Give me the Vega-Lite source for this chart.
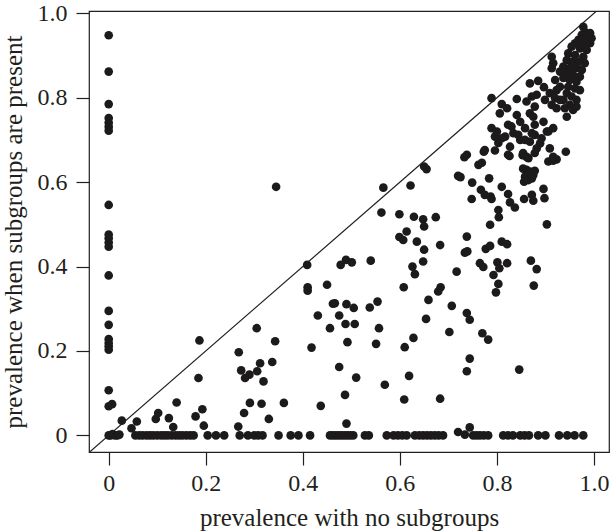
{
  "$schema": "https://vega.github.io/schema/vega-lite/v6.json",
  "width": 520,
  "height": 441,
  "autosize": {"type": "none"},
  "padding": {"left": 89, "top": 11, "right": 1, "bottom": 79},
  "background": "white",
  "config": {"view": {"stroke": "#231f20", "strokeWidth": 1.2}, "font": "Liberation Serif",
    "axis": {"labelFont": "Liberation Serif", "titleFont": "Liberation Serif"}},
  "layer": [
    {
      "data": {"values": [
        {"x":0,"y":0.948},{"x":0,"y":0.862},{"x":0,"y":0.785},{"x":0,"y":0.752},{"x":0,"y":0.741},{"x":0,"y":0.731},{"x":0,"y":0.722},
        {"x":0,"y":0.546},{"x":0,"y":0.476},{"x":0,"y":0.467},{"x":0,"y":0.457},{"x":0,"y":0.447},{"x":0,"y":0.379},{"x":0,"y":0.295},
        {"x":0,"y":0.262},{"x":0,"y":0.228},{"x":0,"y":0.219},{"x":0,"y":0.211},{"x":0,"y":0.203},{"x":0,"y":0.107},{"x":0,"y":0.069},
        {"x":0.007,"y":0.074},{"x":0,"y":0},{"x":0.004,"y":0},{"x":0.008,"y":0.003},{"x":0.013,"y":0},{"x":0.018,"y":0},{"x":0.022,"y":0.002},
        {"x":0.027,"y":0.035},{"x":0.047,"y":0.017},{"x":0.058,"y":0.033},
        {"x":0.055,"y":0},{"x":0.063,"y":0},{"x":0.07,"y":0},{"x":0.078,"y":0},{"x":0.085,"y":0},{"x":0.092,"y":0},{"x":0.1,"y":0},
        {"x":0.108,"y":0},{"x":0.115,"y":0},{"x":0.122,"y":0},{"x":0.13,"y":0},{"x":0.138,"y":0},{"x":0.145,"y":0},{"x":0.152,"y":0},
        {"x":0.16,"y":0},{"x":0.168,"y":0},{"x":0.175,"y":0},{"x":0.204,"y":0},{"x":0.221,"y":0},{"x":0.238,"y":0},{"x":0.27,"y":0},
        {"x":0.287,"y":0},{"x":0.3,"y":0},{"x":0.308,"y":0},{"x":0.317,"y":0},{"x":0.35,"y":0},{"x":0.375,"y":0},{"x":0.391,"y":0},
        {"x":0.415,"y":0},{"x":0.456,"y":0},{"x":0.462,"y":0},{"x":0.468,"y":0},{"x":0.474,"y":0},{"x":0.48,"y":0},{"x":0.486,"y":0},
        {"x":0.492,"y":0},{"x":0.498,"y":0},{"x":0.504,"y":0},{"x":0.528,"y":0},{"x":0.536,"y":0},{"x":0.573,"y":0},{"x":0.587,"y":0},
        {"x":0.596,"y":0},{"x":0.605,"y":0},{"x":0.614,"y":0},{"x":0.631,"y":0},{"x":0.64,"y":0},{"x":0.648,"y":0},{"x":0.656,"y":0},
        {"x":0.664,"y":0},{"x":0.672,"y":0},{"x":0.68,"y":0},{"x":0.689,"y":0},{"x":0.751,"y":0},{"x":0.758,"y":0},{"x":0.765,"y":0},
        {"x":0.773,"y":0},{"x":0.782,"y":0},{"x":0.813,"y":0},{"x":0.823,"y":0},{"x":0.833,"y":0},{"x":0.848,"y":0},{"x":0.857,"y":0},
        {"x":0.866,"y":0},{"x":0.885,"y":0},{"x":0.9,"y":0},{"x":0.928,"y":0},{"x":0.945,"y":0},{"x":0.96,"y":0},{"x":0.978,"y":0},
        {"x":0.097,"y":0.039},{"x":0.102,"y":0.053},{"x":0.124,"y":0.041},{"x":0.133,"y":0.02},{"x":0.14,"y":0.078},{"x":0.179,"y":0.045},
        {"x":0.185,"y":0.136},{"x":0.187,"y":0.225},{"x":0.193,"y":0.062},{"x":0.196,"y":0.023},
        {"x":0.267,"y":0.021},{"x":0.268,"y":0.197},{"x":0.273,"y":0.154},{"x":0.281,"y":0.136},{"x":0.29,"y":0.144},{"x":0.291,"y":0.077},
        {"x":0.279,"y":0.053},{"x":0.305,"y":0.254},{"x":0.306,"y":0.152},{"x":0.312,"y":0.171},
        {"x":0.337,"y":0.174},{"x":0.319,"y":0.128},{"x":0.315,"y":0.075},{"x":0.361,"y":0.077},{"x":0.437,"y":0.07},{"x":0.33,"y":0.039},
        {"x":0.49,"y":0.028},{"x":0.343,"y":0.223},{"x":0.418,"y":0.208},{"x":0.492,"y":0.221},{"x":0.551,"y":0.217},{"x":0.61,"y":0.209},
        {"x":0.628,"y":0.231},{"x":0.475,"y":0.162},{"x":0.51,"y":0.137},{"x":0.569,"y":0.12},{"x":0.619,"y":0.141},{"x":0.487,"y":0.096},
        {"x":0.609,"y":0.085},{"x":0.431,"y":0.284},{"x":0.475,"y":0.284},{"x":0.456,"y":0.254},{"x":0.488,"y":0.264},{"x":0.507,"y":0.264},
        {"x":0.557,"y":0.254},{"x":0.654,"y":0.276},
        {"x":0.345,"y":0.589},{"x":0.566,"y":0.587},{"x":0.622,"y":0.592},{"x":0.65,"y":0.637},{"x":0.655,"y":0.631},{"x":0.562,"y":0.528},
        {"x":0.599,"y":0.524},{"x":0.629,"y":0.518},{"x":0.648,"y":0.512},{"x":0.65,"y":0.495},{"x":0.614,"y":0.483},{"x":0.599,"y":0.47},
        {"x":0.607,"y":0.463},{"x":0.635,"y":0.459},{"x":0.65,"y":0.44},{"x":0.648,"y":0.412},{"x":0.626,"y":0.4},{"x":0.631,"y":0.382},
        {"x":0.608,"y":0.351},{"x":0.659,"y":0.321},{"x":0.409,"y":0.404},{"x":0.478,"y":0.404},{"x":0.489,"y":0.416},{"x":0.501,"y":0.41},
        {"x":0.54,"y":0.414},{"x":0.41,"y":0.351},{"x":0.41,"y":0.343},{"x":0.45,"y":0.357},{"x":0.462,"y":0.312},{"x":0.466,"y":0.313},
        {"x":0.49,"y":0.311},{"x":0.505,"y":0.302},{"x":0.538,"y":0.303},{"x":0.554,"y":0.317},
        {"x":0.733,"y":0.659},{"x":0.773,"y":0.672},{"x":0.796,"y":0.675},{"x":0.826,"y":0.662},{"x":0.853,"y":0.664},{"x":0.865,"y":0.657},
        {"x":0.942,"y":0.672},{"x":0.906,"y":0.649},{"x":0.916,"y":0.651},{"x":0.923,"y":0.654},{"x":0.762,"y":0.641},{"x":0.769,"y":0.646},
        {"x":0.72,"y":0.615},{"x":0.725,"y":0.612},{"x":0.784,"y":0.609},{"x":0.854,"y":0.632},{"x":0.861,"y":0.629},{"x":0.868,"y":0.625},
        {"x":0.878,"y":0.627},{"x":0.875,"y":0.617},{"x":0.858,"y":0.613},{"x":0.865,"y":0.605},{"x":0.856,"y":0.601},{"x":0.872,"y":0.609},
        {"x":0.749,"y":0.599},{"x":0.81,"y":0.589},{"x":0.767,"y":0.582},{"x":0.775,"y":0.57},{"x":0.787,"y":0.566},{"x":0.789,"y":0.56},
        {"x":0.748,"y":0.56},{"x":0.823,"y":0.572},{"x":0.856,"y":0.56},{"x":0.872,"y":0.57},{"x":0.875,"y":0.556},{"x":0.896,"y":0.584},
        {"x":0.898,"y":0.562},{"x":0.827,"y":0.552},{"x":0.837,"y":0.54},{"x":0.803,"y":0.534},{"x":0.804,"y":0.517},{"x":0.674,"y":0.517},
        {"x":0.786,"y":0.499},{"x":0.903,"y":0.5},{"x":0.738,"y":0.471},{"x":0.683,"y":0.451},{"x":0.734,"y":0.433},{"x":0.739,"y":0.436},
        {"x":0.777,"y":0.442},{"x":0.786,"y":0.449},{"x":0.81,"y":0.459},{"x":0.821,"y":0.453},{"x":0.765,"y":0.408},{"x":0.772,"y":0.399},
        {"x":0.801,"y":0.41},{"x":0.805,"y":0.396},{"x":0.793,"y":0.38},{"x":0.821,"y":0.408},{"x":0.87,"y":0.414},{"x":0.882,"y":0.394},
        {"x":0.717,"y":0.388},{"x":0.803,"y":0.359},{"x":0.798,"y":0.339},{"x":0.876,"y":0.355},{"x":0.684,"y":0.351},{"x":0.679,"y":0.341},
        {"x":0.707,"y":0.307},
        {"x":0.738,"y":0.29},{"x":0.744,"y":0.274},{"x":0.702,"y":0.245},{"x":0.77,"y":0.242},{"x":0.782,"y":0.227},{"x":0.744,"y":0.182},
        {"x":0.738,"y":0.152},{"x":0.846,"y":0.156},{"x":0.683,"y":0.087},{"x":0.744,"y":0.019},{"x":0.72,"y":0.008},{"x":0.734,"y":0.002},
        {"x":0.789,"y":0.799},{"x":0.81,"y":0.785},{"x":0.821,"y":0.775},{"x":0.806,"y":0.763},{"x":0.841,"y":0.797},{"x":0.868,"y":0.834},
        {"x":0.885,"y":0.84},{"x":0.897,"y":0.825},{"x":0.872,"y":0.803},{"x":0.861,"y":0.791},{"x":0.882,"y":0.807},{"x":0.899,"y":0.795},
        {"x":0.909,"y":0.811},{"x":0.92,"y":0.799},{"x":0.913,"y":0.783},{"x":0.923,"y":0.775},{"x":0.878,"y":0.779},{"x":0.868,"y":0.763},
        {"x":0.841,"y":0.759},{"x":0.823,"y":0.736},{"x":0.848,"y":0.743},{"x":0.858,"y":0.728},{"x":0.834,"y":0.716},{"x":0.817,"y":0.708},
        {"x":0.875,"y":0.755},{"x":0.896,"y":0.743},{"x":0.906,"y":0.72},{"x":0.878,"y":0.712},{"x":0.868,"y":0.696},{"x":0.892,"y":0.704},
        {"x":0.916,"y":0.728},{"x":0.944,"y":0.755},{"x":0.796,"y":0.708},{"x":0.803,"y":0.693},{"x":0.827,"y":0.684},{"x":0.738,"y":0.665},
        {"x":0.775,"y":0.676},{"x":0.854,"y":0.669},{"x":0.916,"y":0.66},{"x":0.882,"y":0.68},
        {"x":0.978,"y":0.968},{"x":0.981,"y":0.956},{"x":0.975,"y":0.949},{"x":0.985,"y":0.941},{"x":0.968,"y":0.937},{"x":0.961,"y":0.929},
        {"x":0.978,"y":0.929},{"x":0.992,"y":0.929},{"x":0.954,"y":0.921},{"x":0.971,"y":0.917},{"x":0.985,"y":0.913},{"x":0.947,"y":0.905},
        {"x":0.961,"y":0.901},{"x":0.978,"y":0.897},{"x":0.944,"y":0.889},{"x":0.954,"y":0.885},{"x":0.968,"y":0.885},{"x":0.981,"y":0.882},
        {"x":0.937,"y":0.874},{"x":0.95,"y":0.87},{"x":0.964,"y":0.87},{"x":0.975,"y":0.866},{"x":0.944,"y":0.858},{"x":0.957,"y":0.854},
        {"x":0.971,"y":0.85},{"x":0.913,"y":0.897},{"x":0.916,"y":0.882},{"x":0.913,"y":0.87},{"x":0.93,"y":0.862},{"x":0.937,"y":0.847},
        {"x":0.95,"y":0.842},{"x":0.964,"y":0.838},{"x":0.947,"y":0.826},{"x":0.961,"y":0.822},{"x":0.971,"y":0.818},{"x":0.944,"y":0.811},
        {"x":0.954,"y":0.803},{"x":0.964,"y":0.795},{"x":0.937,"y":0.795},{"x":0.95,"y":0.783},{"x":0.957,"y":0.771},{"x":0.93,"y":0.826},
        {"x":0.92,"y":0.842},{"x":0.923,"y":0.818},{"x":0.964,"y":0.779},{"x":0.94,"y":0.775},{"x":0.93,"y":0.795},{"x":0.992,"y":0.953},
        {"x":0.988,"y":0.937},{"x":0.995,"y":0.941},
        {"x":0.789,"y":0.728},{"x":0.8,"y":0.72},{"x":0.844,"y":0.712},{"x":0.83,"y":0.732},{"x":0.848,"y":0.7},{"x":0.81,"y":0.704},
        {"x":0.889,"y":0.692},{"x":0.909,"y":0.68},{"x":0.903,"y":0.72},{"x":0.872,"y":0.716},{"x":0.878,"y":0.736},{"x":0.858,"y":0.7},
        {"x":0.823,"y":0.665},{"x":0.861,"y":0.66},{"x":0.878,"y":0.669}
      ]},
      "mark": {"type": "circle", "size": 75, "color": "#1c1a1a", "opacity": 1},
      "encoding": {
        "x": {"field": "x", "type": "quantitative",
          "scale": {"domain": [-0.0406, 1.031], "nice": false, "zero": false},
          "axis": {"values": [0, 0.2, 0.4, 0.6, 0.8, 1], "labelExpr": "datum.value == 0 ? '0' : format(datum.value, '.1f')",
            "domain": false, "grid": false, "tickSize": 13, "tickColor": "#231f20", "tickWidth": 1.2,
            "labelFont": "Liberation Serif", "labelFontSize": 24, "labelColor": "#231f20", "labelPadding": 6, "labelFlush": false, "labelOverlap": false,
            "title": "prevalence with no subgroups", "titleFont": "Liberation Serif", "titleFontSize": 25, "titleFontWeight": "normal", "titleColor": "#231f20", "titlePadding": 10}},
        "y": {"field": "y", "type": "quantitative",
          "scale": {"domain": [-0.0393, 1.0055], "nice": false, "zero": false},
          "axis": {"values": [0, 0.2, 0.4, 0.6, 0.8, 1], "labelExpr": "datum.value == 0 ? '0' : format(datum.value, '.1f')",
            "domain": false, "grid": false, "tickSize": 13, "tickColor": "#231f20", "tickWidth": 1.2,
            "labelFont": "Liberation Serif", "labelFontSize": 24, "labelColor": "#231f20", "labelPadding": 9, "labelFlush": false, "labelOverlap": false,
            "title": "prevalence when subgroups are present", "titleFont": "Liberation Serif", "titleFontSize": 25, "titleFontWeight": "normal", "titleColor": "#231f20", "titlePadding": 11}}
      }
    },
    {
      "data": {"values": [{"x": -0.05, "y": -0.05, "x2": 1.05, "y2": 1.05}]},
      "mark": {"type": "rule", "clip": true, "color": "#231f20", "strokeWidth": 1.2},
      "encoding": {
        "x": {"field": "x", "type": "quantitative"},
        "y": {"field": "y", "type": "quantitative"},
        "x2": {"field": "x2"},
        "y2": {"field": "y2"}
      }
    }
  ]
}
